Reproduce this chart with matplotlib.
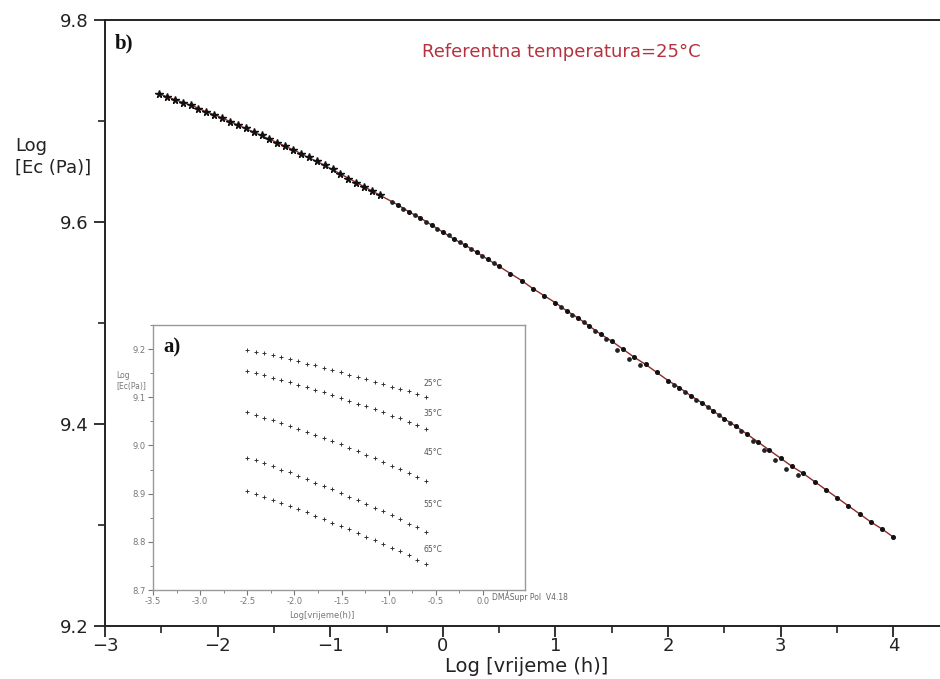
import matplotlib
import matplotlib.pyplot as plt
from matplotlib.ticker import MultipleLocator

matplotlib.use("Agg")

# master curve (fit line), log time in hours
line_x = [-2.5, -2.4, -2.3, -2.2, -2.1, -2.0, -1.9, -1.8, -1.7, -1.6, -1.5,
          -1.4, -1.3, -1.2, -1.1, -1.0, -0.9, -0.8, -0.7, -0.6, -0.5, -0.4,
          -0.3, -0.2, -0.1, 0.0, 0.1, 0.2, 0.3, 0.4, 0.5, 0.6, 0.7, 0.8, 0.9,
          1.0, 1.1, 1.2, 1.3, 1.4, 1.5, 1.6, 1.7, 1.8, 1.9, 2.0, 2.1, 2.2,
          2.3, 2.4, 2.5, 2.6, 2.7, 2.8, 2.9, 3.0, 3.1, 3.2, 3.3, 3.4, 3.5,
          3.6, 3.7, 3.8, 3.9, 4.0]
line_y = [9.726, 9.722, 9.718, 9.714, 9.709, 9.705, 9.700, 9.695, 9.690,
          9.685, 9.680, 9.675, 9.670, 9.664, 9.659, 9.653, 9.647, 9.641,
          9.635, 9.629, 9.623, 9.617, 9.610, 9.604, 9.597, 9.590, 9.583,
          9.577, 9.570, 9.563, 9.556, 9.549, 9.542, 9.534, 9.527, 9.520,
          9.512, 9.505, 9.497, 9.489, 9.482, 9.474, 9.466, 9.459, 9.451,
          9.443, 9.436, 9.428, 9.421, 9.413, 9.405, 9.398, 9.390, 9.382,
          9.374, 9.366, 9.358, 9.351, 9.343, 9.335, 9.327, 9.319, 9.311,
          9.303, 9.296, 9.288]

# measured points at the reference temperature (star markers)
star_x = [-2.52, -2.45, -2.38, -2.31, -2.24, -2.17, -2.10, -2.03, -1.96,
          -1.89, -1.82, -1.75, -1.68, -1.61, -1.54, -1.47, -1.40, -1.33,
          -1.26, -1.19, -1.12, -1.05, -0.98, -0.91, -0.84, -0.77, -0.70,
          -0.63, -0.56]
star_y = [9.727, 9.724, 9.721, 9.718, 9.716, 9.712, 9.709, 9.706, 9.703,
          9.699, 9.696, 9.693, 9.689, 9.686, 9.682, 9.678, 9.675, 9.671,
          9.667, 9.664, 9.660, 9.656, 9.652, 9.648, 9.643, 9.639, 9.635,
          9.631, 9.627]

# shifted points from the higher temperatures
dot_x = [-0.4, -0.3, -0.2, -0.1, 0.0, 0.1, 0.2, 0.3, 0.4, 0.5, 0.6, 0.7,
         0.8, 0.9, 1.0, 1.1, 1.2, 1.3, 1.4, 1.5, 1.6, 1.7, 1.8, 1.9, 2.0,
         2.1, 2.2, 2.3, 2.4, 2.5, 2.6, 2.7, 2.8, 2.9, 3.0, 3.1, 3.2, 3.3,
         3.4, 3.5, 3.6, 3.7, 3.8, 3.9, 4.0]
dot_y = [9.617, 9.610, 9.604, 9.597, 9.590, 9.583, 9.577, 9.570, 9.563,
         9.556, 9.549, 9.542, 9.534, 9.527, 9.520, 9.512, 9.505, 9.497,
         9.489, 9.482, 9.474, 9.466, 9.459, 9.451, 9.443, 9.436, 9.428,
         9.421, 9.413, 9.405, 9.398, 9.390, 9.382, 9.374, 9.366, 9.358,
         9.351, 9.343, 9.335, 9.327, 9.319, 9.311, 9.303, 9.296, 9.288]
overlap_x = [-0.45, -0.35, -0.25, -0.15, -0.05, 0.05, 0.15, 0.25, 0.35,
             0.45, 1.05, 1.15, 1.25, 1.35, 1.45, 1.55, 1.65, 1.75, 2.05,
             2.15, 2.25, 2.35, 2.45, 2.55, 2.65, 2.75, 2.85, 2.95, 3.05,
             3.15]
overlap_y = [9.620, 9.613, 9.607, 9.600, 9.593, 9.587, 9.580, 9.573, 9.566,
             9.559, 9.516, 9.508, 9.501, 9.492, 9.484, 9.473, 9.464, 9.458,
             9.439, 9.432, 9.424, 9.417, 9.409, 9.401, 9.393, 9.383, 9.374,
             9.364, 9.355, 9.350]

# inset a): isotherms before shifting
iso_x = [-2.50, -2.41, -2.32, -2.23, -2.14, -2.05, -1.96, -1.87, -1.78,
         -1.69, -1.60, -1.51, -1.42, -1.33, -1.24, -1.15, -1.06, -0.97,
         -0.88, -0.79, -0.70, -0.61]
iso_labels = ["25°C", "35°C", "45°C", "55°C", "65°C"]
iso_25 = [9.199, 9.195, 9.191, 9.187, 9.183, 9.179, 9.175, 9.170, 9.166,
          9.161, 9.157, 9.152, 9.147, 9.142, 9.137, 9.132, 9.127, 9.122,
          9.117, 9.112, 9.106, 9.101]
iso_35 = [9.155, 9.150, 9.146, 9.141, 9.136, 9.131, 9.126, 9.121, 9.116,
          9.110, 9.105, 9.099, 9.093, 9.087, 9.081, 9.075, 9.069, 9.062,
          9.056, 9.049, 9.042, 9.035]
iso_45 = [9.069, 9.064, 9.058, 9.052, 9.046, 9.040, 9.034, 9.028, 9.022,
          9.015, 9.009, 9.002, 8.995, 8.988, 8.981, 8.973, 8.966, 8.958,
          8.951, 8.943, 8.935, 8.927]
iso_55 = [8.975, 8.969, 8.963, 8.957, 8.950, 8.944, 8.937, 8.930, 8.923,
          8.916, 8.909, 8.902, 8.894, 8.887, 8.879, 8.871, 8.863, 8.855,
          8.847, 8.838, 8.830, 8.821]
iso_65 = [8.905, 8.899, 8.893, 8.887, 8.881, 8.874, 8.868, 8.861, 8.854,
          8.847, 8.840, 8.833, 8.826, 8.818, 8.811, 8.803, 8.795, 8.788,
          8.780, 8.772, 8.763, 8.755]

W, H = 940, 679
fig = plt.figure(figsize=(W / 100, H / 100), dpi=100)
fig.patch.set_facecolor("white")

# ---- main plot b) ----
ax = fig.add_axes([105 / W, (H - 626) / H, 835 / W, 606 / H])
ax.plot(line_x, line_y, color="#8e2b2b", lw=1.0, zorder=2)
ax.plot(star_x, star_y, ls="none", marker="*", ms=5.5, color="#111", zorder=3)
ax.plot(dot_x, dot_y, ls="none", marker="o", ms=2.6, color="#111", zorder=3)
ax.plot(overlap_x, overlap_y, ls="none", marker="o", ms=2.4, color="#222", zorder=3)

ax.set_xlim(-3, 4.414)
ax.set_ylim(9.2, 9.8)
ax.xaxis.set_major_locator(MultipleLocator(1))
ax.xaxis.set_minor_locator(MultipleLocator(0.5))
ax.yaxis.set_major_locator(MultipleLocator(0.2))
ax.yaxis.set_minor_locator(MultipleLocator(0.1))
ax.yaxis.set_major_formatter(plt.FuncFormatter(lambda v, p: f"{v:.1f}"))
ax.spines["right"].set_visible(False)
for s in ("left", "top", "bottom"):
    ax.spines[s].set_linewidth(1.4)
    ax.spines[s].set_color("#222")
ax.tick_params(which="major", direction="out", length=8, width=1.3,
               labelsize=13, colors="#222", pad=0)
ax.tick_params(which="minor", direction="out", length=5, width=1.2, colors="#222")
ax.tick_params(axis="y", pad=4)

fig.text(527 / W, 1 - 667 / H, "Log [vrijeme (h)]", ha="center", va="center",
         fontsize=14, color="#222")
fig.text(15 / W, 1 - 157 / H, "Log\n[Ec (Pa)]", ha="left", va="center",
         fontsize=13, color="#222", linespacing=1.25)
fig.text(115 / W, 1 - 43 / H, "b)", ha="left", va="center", fontsize=15,
         fontweight="bold", family="Liberation Serif", color="#111")
fig.text(422 / W, 1 - 52 / H, "Referentna temperatura=25°C", ha="left",
         va="center", fontsize=13, color="#b5323f")

# ---- inset a) ----
ins = fig.add_axes([153 / W, (H - 590) / H, 372 / W, 265 / H])
ins.set_facecolor("white")
for ys in (iso_25, iso_35, iso_45, iso_55, iso_65):
    ins.plot(iso_x, ys, ls="none", marker="+", ms=2.5, mew=0.7, color="#333")

ins.set_xlim(-3.5, 0.445)
ins.set_ylim(8.7, 9.25)
ins.xaxis.set_major_locator(MultipleLocator(0.5))
ins.xaxis.set_minor_locator(MultipleLocator(0.25))
ins.yaxis.set_major_locator(MultipleLocator(0.1))
ins.yaxis.set_minor_locator(MultipleLocator(0.05))
ins.xaxis.set_major_formatter(plt.FuncFormatter(lambda v, p: f"{v:.1f}".replace("\u2212", "-")))
ins.yaxis.set_major_formatter(plt.FuncFormatter(lambda v, p: f"{v:.1f}"))
for s in ins.spines.values():
    s.set_color("#999")
    s.set_linewidth(1.0)
ins.tick_params(which="major", direction="out", length=3.5, width=0.8,
                labelsize=6, colors="#777", pad=1.5)
ins.tick_params(which="minor", direction="out", length=2, width=0.7, colors="#888")

label_y = [9.129, 9.066, 8.985, 8.878, 8.784]
for lab, ly in zip(iso_labels, label_y):
    ins.text(-0.53, ly, lab, ha="center", va="center", fontsize=5.5, color="#555")

fig.text(116 / W, 1 - 381 / H, "Log\n[Ec(Pa)]", ha="left", va="center",
         fontsize=5.5, color="#777", linespacing=1.2)
fig.text(322 / W, 1 - 616 / H, "Log[vrijeme(h)]", ha="center", va="center",
         fontsize=6, color="#777")
fig.text(492 / W, 1 - 598 / H, "DMASupr Pol  V4.18", ha="left", va="center",
         fontsize=5.5, color="#666")
fig.text(163 / W, 1 - 347 / H, "a)", ha="left", va="center", fontsize=15,
         fontweight="bold", family="Liberation Serif", color="#111")

fig.savefig("out.png", dpi=100)
